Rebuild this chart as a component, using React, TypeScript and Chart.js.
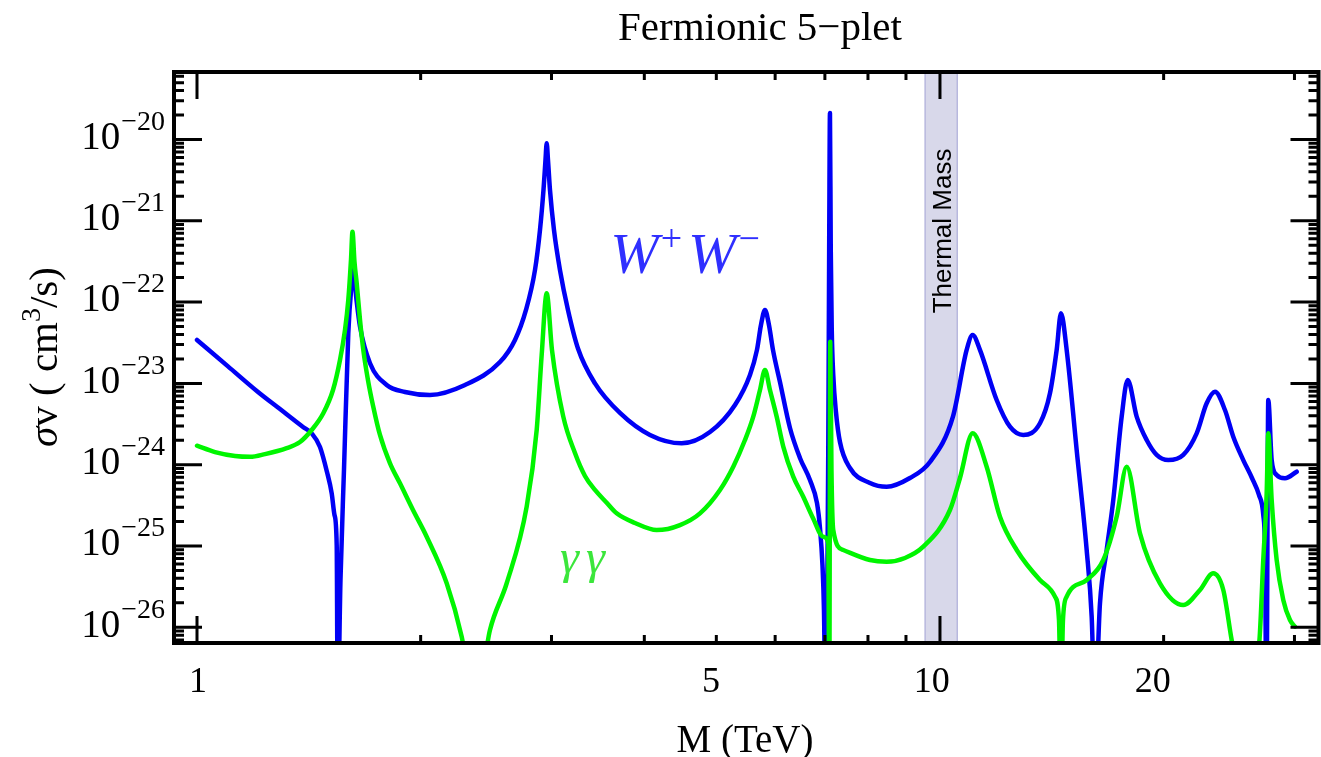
import React, { useEffect, useRef } from "react";
import { Chart, registerables } from "chart.js";

Chart.register(...registerables);

// ---------- text ----------
const TITLE = "Fermionic 5\u2212plet";
const X_TITLE = "M (TeV)";
const THERMAL_LABEL = "Thermal Mass";

// ---------- axes ----------
const X_MIN = 0.9312;
const X_MAX = 32.32;
const Y_MIN = 6.41e-27;
const Y_MAX = 6.76e-20;

const xTickValues = [1, 5, 10, 20];
const xTickLabels = ["1", "5", "10", "20"];
const xMajorTicks = [1, 10];
const yTickValues = [1e-20, 1e-21, 1e-22, 1e-23, 1e-24, 1e-25, 1e-26];
const yTickBase = "10";
const yTickExponents = ["\u221220", "\u221221", "\u221222", "\u221223", "\u221224", "\u221225", "\u221226"];

// thermal mass band (TeV)
const thermalMass = [9.55, 10.55];

// ---------- series: W+W- ----------
const massWW = [
  1.0, 1.1008, 1.207, 1.2933, 1.3889, 1.4268, 1.464, 1.4961, 1.5181, 1.5313,
  1.5418, 1.5466, 1.56, 1.5771, 1.5982, 1.6151, 1.6232, 1.6394, 1.6573, 1.7094,
  1.8002, 1.9052, 2.0587, 2.2946, 2.5574, 2.6791, 2.772, 2.8504, 2.8949, 2.9265,
  2.9447, 2.9557, 2.9676, 2.986, 3.0233, 3.08, 3.1573, 3.2567, 3.4328, 3.7093,
  4.0708, 4.491, 4.9027, 5.2976, 5.5497, 5.6714, 5.7421, 5.8137, 5.8862, 5.9596,
  6.0903, 6.282, 6.4797, 6.6836, 6.8302, 6.894, 6.9476, 6.98, 7.0125, 7.0736,
  7.0934, 7.111, 7.1287, 7.1508, 7.1841, 7.2444, 7.3348, 7.5657, 8.0495, 8.477,
  9.1117, 9.6943, 10.41, 10.862, 11.066, 11.319, 11.92, 12.422, 12.945, 13.633,
  14.062, 14.357, 14.55, 14.809, 15.275, 15.756, 16.002, 16.167, 16.419, 16.764,
  17.11, 17.561, 17.891, 18.397, 18.976, 19.573, 20.289, 21.255, 22.156, 22.854,
  23.449, 24.187, 24.817, 25.598, 26.298, 26.875, 27.235, 27.379, 27.507, 27.661,
  27.954, 28.39, 29.13, 30.206,
];
const sigmaWW = [
  3.42e-23, 1.62e-23, 7.9e-24, 4.83e-24, 2.91e-24, 2.43e-24, 1.65e-24, 8.13e-25, 4.45e-25, 2.41e-25,
  1.03e-25, 1e-27, 3.84e-26, 8.8e-25, 4.13e-23, 1.72e-22, 2.48e-22, 1.06e-22, 4.98e-23, 1.77e-23,
  9.56e-24, 7.84e-24, 7.2e-24, 9.56e-24, 1.83e-23, 3.42e-23, 8.0e-23, 2.48e-22, 7.71e-22, 2.39e-21,
  5.6e-21, 8.98e-21, 5.6e-21, 2.39e-21, 7.71e-22, 2.48e-22, 8.0e-23, 2.69e-23, 1.0e-23, 4.33e-24,
  2.32e-24, 1.83e-24, 2.52e-24, 5.42e-24, 1.27e-23, 2.58e-23, 5.23e-23, 8.0e-23, 5.23e-23, 2.58e-23,
  1.04e-23, 2.83e-24, 1.21e-24, 6.48e-25, 3.38e-25, 1.67e-25, 5.84e-26, 1.63e-26, 1e-27, 1.52e-24,
  4.37e-22, 2.12e-20, 4.37e-22, 4.54e-23, 1.27e-23, 4.45e-24, 1.9e-24, 9.11e-25, 5.96e-25, 5.36e-25,
  6.86e-25, 1.08e-24, 3.9e-24, 2.58e-23, 3.94e-23, 2.58e-23, 6.25e-24, 2.93e-24, 2.32e-24, 3.23e-24,
  7.55e-24, 2.58e-23, 7.28e-23, 2.58e-23, 1.52e-24, 8.93e-26, 1.35e-26, 1e-27, 1.97e-26, 8.93e-26,
  3.68e-25, 3.9e-24, 1.1e-23, 3.9e-24, 2.01e-24, 1.32e-24, 1.14e-24, 1.32e-24, 2.43e-24, 5.69e-24,
  7.9e-24, 4.71e-24, 2.21e-24, 1.14e-24, 6.86e-25, 4.24e-25, 2.41e-25, 8.93e-26, 1e-27, 6.25e-24,
  1.14e-24, 7.47e-25, 6.8e-25, 8.2e-25,
];

// ---------- series: gamma gamma ----------
const massGG = [
  1.0, 1.0574, 1.125, 1.1785, 1.2346, 1.3205, 1.376, 1.4268, 1.479, 1.5242,
  1.5576, 1.5819, 1.5982, 1.6116, 1.6191, 1.6292, 1.6403, 1.6573, 1.6743, 1.6987,
  1.7268, 1.7631, 1.8188, 1.8759, 1.9531, 2.0377, 2.1681, 2.2713, 2.3668, 2.4793,
  2.6111, 2.778, 2.8655, 2.9102, 2.9557, 3.0046, 3.1117, 3.2266, 3.328, 3.4328,
  3.5519, 3.6716, 3.8858, 4.1561, 4.4675, 4.7531, 5.0569, 5.2694, 5.4642, 5.6066,
  5.7244, 5.8137, 5.9045, 6.0284, 6.153, 6.3466, 6.5464, 6.7461, 6.9648, 7.0736,
  7.0956, 7.1176, 7.1442, 7.1841, 7.4102, 8.0495, 8.477, 8.9718, 9.4949, 10.314,
  10.639, 11.066, 11.557, 12.043, 12.684, 13.633, 14.282, 14.46, 14.55, 14.64,
  14.809, 15.756, 16.588, 17.291, 17.836, 18.586, 19.774, 21.255, 22.383, 23.325,
  24.061, 24.694, 25.733, 26.916, 27.235, 27.524, 27.661, 27.954, 28.39, 28.977,
  29.585, 30.047,
];
const sigmaGG = [
  1.71e-24, 1.43e-24, 1.28e-24, 1.25e-24, 1.35e-24, 1.6e-24, 1.9e-24, 2.67e-24, 4.29e-24, 8.29e-24,
  1.94e-23, 4.54e-23, 1.06e-22, 3.3e-22, 7.34e-22, 3.11e-22, 1.72e-22, 6.02e-23, 2.58e-23, 1.1e-23,
  5.17e-24, 2.32e-24, 1.04e-24, 5.9e-25, 2.77e-25, 1.3e-25, 3.48e-26, 7.66e-27, 1e-27, 9.26e-27,
  3.48e-26, 3.04e-25, 2.67e-24, 2.24e-23, 1.28e-22, 2.58e-23, 3.9e-24, 1.39e-24, 7.26e-25, 4.89e-25,
  3.48e-25, 2.52e-25, 1.92e-25, 1.57e-25, 1.81e-25, 2.52e-25, 4.89e-25, 9.45e-25, 2.01e-24, 3.9e-24,
  8.29e-24, 1.46e-23, 8.29e-24, 3.9e-24, 1.67e-24, 7.12e-25, 4.04e-25, 2.21e-25, 1.3e-25, 1.08e-25,
  1e-27, 3.26e-23, 8.61e-25, 1.57e-25, 8.93e-26, 6.73e-26, 6.41e-26, 7.12e-26, 9.8e-26, 2.77e-25,
  6.86e-25, 2.43e-24, 9.45e-25, 2.29e-25, 8.93e-26, 3.82e-26, 2.38e-26, 1.23e-26, 1e-27, 1.23e-26,
  2.38e-26, 3.82e-26, 6.73e-26, 2.29e-25, 9.45e-25, 1.43e-25, 3.48e-26, 1.88e-26, 2.88e-26, 4.61e-26,
  2.88e-26, 6.98e-27, 1e-27, 6.98e-27, 6.73e-26, 4.45e-25, 2.43e-24, 3.68e-25, 6.73e-26, 2.17e-26,
  1.23e-26, 1.02e-26,
];

// annotation anchors (data coordinates)
const wwLabelAt = { m: 3.6, s: 2.3e-22 };
const ggLabelAt = { m: 3.08, s: 4.7e-26 };
const thermalLabelAt = { m: 10.05, s: 7.5e-22 };

const SERIF = '"Liberation Serif", "Times New Roman", serif';
const SANS = '"Liberation Sans", Arial, sans-serif';

type Run = { t: string; f: string; dy?: number; gap?: number };
function drawRuns(ctx: CanvasRenderingContext2D, runs: Run[], x: number, y: number, align: "left" | "center" | "right") {
  ctx.textAlign = "left";
  let total = 0;
  const widths = runs.map((r) => {
    ctx.font = r.f;
    const w = ctx.measureText(r.t).width + (r.gap || 0);
    total += w;
    return w;
  });
  let cx = align === "left" ? x : align === "center" ? x - total / 2 : x - total;
  runs.forEach((r, i) => {
    ctx.font = r.f;
    ctx.fillText(r.t, cx, y + (r.dy || 0));
    cx += widths[i];
  });
}

const decor = {
  id: "decor",
  beforeDatasetsDraw(chart: any) {
    const { ctx, chartArea: a, scales } = chart;
    const x0 = scales.x.getPixelForValue(thermalMass[0]);
    const x1 = scales.x.getPixelForValue(thermalMass[1]);
    ctx.save();
    ctx.fillStyle = "rgb(216,216,234)";
    ctx.fillRect(x0, a.top, x1 - x0, a.bottom - a.top);
    ctx.strokeStyle = "rgb(184,184,222)";
    ctx.lineWidth = 1.5;
    ctx.beginPath();
    ctx.moveTo(x0, a.top);
    ctx.lineTo(x0, a.bottom);
    ctx.moveTo(x1, a.top);
    ctx.lineTo(x1, a.bottom);
    ctx.stroke();
    ctx.restore();
  },
  afterDatasetsDraw(chart: any) {
    const { ctx, chartArea: a, scales } = chart;
    const xs = scales.x;
    const ys = scales.y;
    ctx.save();

    // ticks
    ctx.strokeStyle = "#000";
    ctx.lineWidth = 3;
    ctx.lineCap = "butt";
    ctx.beginPath();
    for (let d = 1; d <= 100; d *= 10) {
      for (let k = 1; k <= 9; k++) {
        const v = k * d;
        if (v < X_MIN || v > X_MAX) continue;
        const px = xs.getPixelForValue(v);
        const len = xMajorTicks.includes(v) ? 27 : 8;
        ctx.moveTo(px, a.bottom);
        ctx.lineTo(px, a.bottom - len);
        ctx.moveTo(px, a.top);
        ctx.lineTo(px, a.top + len);
      }
    }
    for (let e = -27; e <= -20; e++) {
      for (let k = 1; k <= 9; k++) {
        const v = k * Math.pow(10, e);
        if (v < Y_MIN || v > Y_MAX) continue;
        const py = ys.getPixelForValue(v);
        const len = k === 1 ? 28 : 10;
        ctx.moveTo(a.left, py);
        ctx.lineTo(a.left + len, py);
        ctx.moveTo(a.right, py);
        ctx.lineTo(a.right - len, py);
      }
    }
    ctx.stroke();

    // frame
    ctx.lineWidth = 4;
    ctx.strokeRect(a.left, a.top, a.right - a.left, a.bottom - a.top);

    ctx.fillStyle = "#000";
    ctx.textBaseline = "middle";

    // x tick labels (label row is slightly compressed relative to the tick row)
    ctx.font = `36px ${SERIF}`;
    ctx.textAlign = "center";
    const p1 = xs.getPixelForValue(1);
    xTickValues.forEach((v, i) => {
      const px = xs.getPixelForValue(v);
      ctx.fillText(xTickLabels[i], p1 + 1 + (px - p1) * 0.9876, a.bottom + 40);
    });

    // y tick labels
    yTickValues.forEach((v, i) => {
      const py = ys.getPixelForValue(v);
      drawRuns(
        ctx,
        [
          { t: yTickBase, f: `39px ${SERIF}`, dy: -1, gap: 1 },
          { t: yTickExponents[i], f: `28px ${SERIF}`, dy: -17 },
        ],
        a.left - 9,
        py,
        "right"
      );
    });

    // title
    ctx.font = `41px ${SERIF}`;
    ctx.textAlign = "center";
    ctx.fillText(TITLE, 760, 29);

    // x title
    ctx.font = `39px ${SERIF}`;
    ctx.fillText(X_TITLE, 745, 742);

    // y title
    ctx.save();
    ctx.translate(46, 357);
    ctx.rotate(-Math.PI / 2);
    drawRuns(
      ctx,
      [
        { t: "\u03c3", f: `italic 41px ${SERIF}` },
        { t: "v ( cm", f: `41px ${SERIF}` },
        { t: "3", f: `28px ${SERIF}`, dy: -13 },
        { t: "/s)", f: `41px ${SERIF}` },
      ],
      0,
      0,
      "center"
    );
    ctx.restore();

    // thermal mass label
    ctx.save();
    ctx.translate(xs.getPixelForValue(thermalLabelAt.m) + 2, ys.getPixelForValue(thermalLabelAt.s));
    ctx.rotate(-Math.PI / 2);
    ctx.font = `26px ${SANS}`;
    ctx.textAlign = "center";
    ctx.textBaseline = "middle";
    ctx.fillText(THERMAL_LABEL, 0, 0);
    ctx.restore();

    // series labels
    ctx.textBaseline = "alphabetic";
    ctx.fillStyle = "#2f2fff";
    drawRuns(
      ctx,
      [
        { t: "W", f: `italic 58px ${SERIF}`, gap: 2 },
        { t: "+", f: `38px ${SERIF}`, dy: -22, gap: 6 },
        { t: "W", f: `italic 58px ${SERIF}`, gap: 2 },
        { t: "\u2212", f: `38px ${SERIF}`, dy: -22 },
      ],
      xs.getPixelForValue(wwLabelAt.m),
      ys.getPixelForValue(wwLabelAt.s),
      "left"
    );
    ctx.fillStyle = "#3be63b";
    drawRuns(
      ctx,
      [
        { t: "\u03b3", f: `italic 48px ${SERIF}`, gap: 7 },
        { t: "\u03b3", f: `italic 48px ${SERIF}` },
      ],
      xs.getPixelForValue(ggLabelAt.m),
      ys.getPixelForValue(ggLabelAt.s),
      "left"
    );

    ctx.restore();
  },
};

export default function App() {
  const ref = useRef<HTMLCanvasElement | null>(null);
  useEffect(() => {
    if (!ref.current) return;
    const chart = new Chart(ref.current, {
      type: "line",
      data: {
        datasets: [
          {
            label: "\u03b3\u03b3",
            data: massGG.map((m, i) => ({ x: m, y: sigmaGG[i] })),
            borderColor: "#00f500",
            borderWidth: 4.5,
            pointRadius: 0,
            cubicInterpolationMode: "monotone",
            borderJoinStyle: "round",
            borderCapStyle: "round",
            order: 0,
            clip: 0,
          } as any,
          {
            label: "W+W\u2212",
            data: massWW.map((m, i) => ({ x: m, y: sigmaWW[i] })),
            borderColor: "#0000f5",
            borderWidth: 4.5,
            pointRadius: 0,
            cubicInterpolationMode: "monotone",
            borderJoinStyle: "round",
            borderCapStyle: "round",
            order: 1,
            clip: 0,
          } as any,
        ],
      },
      options: {
        responsive: false,
        animation: false,
        devicePixelRatio: 1,
        events: [],
        layout: { padding: { left: 174, top: 72, right: 2.5, bottom: 114 } },
        scales: {
          x: { type: "logarithmic", min: X_MIN, max: X_MAX, display: false },
          y: { type: "logarithmic", min: Y_MIN, max: Y_MAX, display: false },
        },
        plugins: {
          legend: { display: false },
          tooltip: { enabled: false },
          title: { display: false },
        },
      } as any,
      plugins: [decor],
    });
    return () => chart.destroy();
  }, []);
  return (
    <div style={{ position: "absolute", left: 0, top: 0, width: 1321, height: 757, background: "#fff" }}>
      <canvas ref={ref} width={1321} height={757} style={{ display: "block" }} />
    </div>
  );
}
